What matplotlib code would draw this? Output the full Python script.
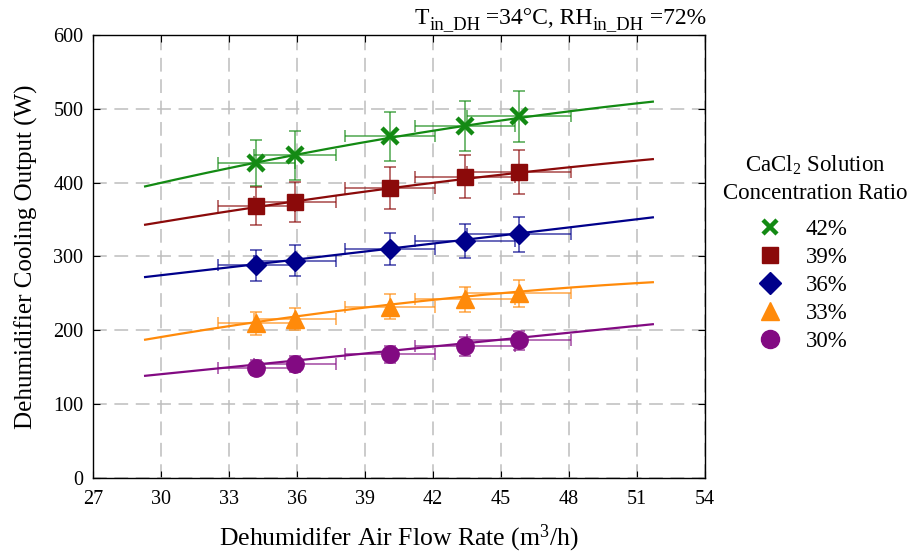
import numpy as np
import matplotlib
matplotlib.use('Agg')
import matplotlib.pyplot as plt
from matplotlib.lines import Line2D

plt.rcParams['font.family'] = ['Liberation Serif', 'DejaVu Serif']
plt.rcParams['mathtext.fontset'] = 'custom'
plt.rcParams['mathtext.rm'] = 'Liberation Serif'
plt.rcParams['mathtext.it'] = 'Liberation Serif:italic'

# ---- data ----
flow = [34.2, 35.9, 40.1, 43.4, 45.8]
flow_err = [1.7, 1.8, 2.0, 2.2, 2.3]
labels = ['42%', '39%', '36%', '33%', '30%']
cool_42 = [427, 437, 463, 477, 490]
err_42 = [31, 33, 33, 34, 35]
cool_39 = [368, 374, 393, 408, 415]
err_39 = [26, 27, 28, 29, 30]
cool_36 = [288, 294, 310, 321, 330]
err_36 = [21, 21, 22, 23, 24]
cool_33 = [209, 215, 232, 242, 250]
err_33 = [15, 15, 17, 17, 18]
cool_30 = [149, 154, 167, 178, 186]
err_30 = [10, 11, 12, 13, 13]

# trend-line values read at three flow rates
fit_x = [29.3, 40.5, 51.7]
fit_42 = [395, 463, 510]
fit_39 = [343, 394, 432]
fit_36 = [272, 312, 353]
fit_33 = [187, 236, 265]
fit_30 = [138, 173, 208]

x_ticks = [27, 30, 33, 36, 39, 42, 45, 48, 51, 54]
y_ticks = [0, 100, 200, 300, 400, 500, 600]

series = [
    (labels[0], cool_42, err_42, fit_42, '#138a13', 'x'),
    (labels[1], cool_39, err_39, fit_39, '#8b0a0a', 's'),
    (labels[2], cool_36, err_36, fit_36, '#00008b', 'D'),
    (labels[3], cool_33, err_33, fit_33, '#ff8a0a', '^'),
    (labels[4], cool_30, err_30, fit_30, '#820a82', 'o'),
]

W, H = 908, 557
fig = plt.figure(figsize=(W / 100, H / 100), dpi=100)
ax = fig.add_axes([0.1024, 0.1427, 0.6740, 0.7939])

handles = []
for lab, y, ye, fy, col, mk in series:
    coef = np.polyfit(fit_x, fy, 2)
    xx = np.linspace(fit_x[0], fit_x[-1], 200)
    ax.plot(xx, np.polyval(coef, xx), color=col, lw=1.6, zorder=3)
    ax.errorbar(flow, y, yerr=ye, xerr=flow_err, fmt='none', ecolor=col,
                elinewidth=1.1, capsize=4, capthick=1.1, alpha=0.75, zorder=4)
    if mk == 'x':
        ax.plot(flow, y, ls='none', marker='x', ms=12, mew=3.2, color=col, zorder=5)
        h = Line2D([], [], ls='none', marker='x', ms=10, mew=3.2, color=col)
    else:
        ms = {'s': 11.5, 'D': 10.5, '^': 12.5, 'o': 12.5}[mk]
        lms = {'s': 11, 'D': 11, '^': 13, 'o': 13}[mk]
        ax.plot(flow, y, ls='none', marker=mk, ms=ms, color=col, mec=col, zorder=5)
        h = Line2D([], [], ls='none', marker=mk, ms=lms, color=col, mec=col)
    handles.append(h)

ax.set_xlim(27, 54)
ax.set_ylim(0, 600)
ax.set_xticks(x_ticks)
ax.set_yticks(y_ticks)
ax.tick_params(direction='in', top=True, right=True, length=5, labelsize=14.5)
ax.tick_params(axis='x', pad=9)
ax.tick_params(axis='y', pad=7)
ax.grid(True, color='#bdbdbd', ls=(0, (9, 5)), lw=1.1)
ax.set_axisbelow(True)
for s in ax.spines.values():
    s.set_linewidth(1.0)

ax.set_xlabel('Dehumidifer Air Flow Rate (m$^3$/h)', fontsize=18.5, labelpad=10)
ax.set_ylabel('Dehumidifier Cooling Output (W)', fontsize=18, labelpad=11)

# condition note at the top right, built from pieces so subscripts are large
renderer = fig.canvas.get_renderer()
pieces = [('T', 17, 0), ('in_DH', 13.5, -5), (' =34°C, RH', 17, 0),
          ('in_DH', 13.5, -5), (' =72%', 17, 0)]
texts = []
widths = []
for s, size, dy in pieces:
    t = fig.text(0, 0, s, fontsize=size, ha='left', va='baseline')
    texts.append((t, dy))
    widths.append(t.get_window_extent(renderer).width)
x = 706 - sum(widths)
base = H - 24
for (t, dy), w in zip(texts, widths):
    t.set_position((x / W, (base + dy) / H))
    x += w

# legend title and entries
fig.text(815 / W, 1 - 179 / H, 'CaCl$_2$ Solution\nConcentration Ratio',
         ha='center', va='center', fontsize=16.5, linespacing=1.4,
         multialignment='center')
leg = fig.legend(handles=handles, labels=labels, loc='upper left',
                 bbox_to_anchor=(758.5 / W, 1 - 219 / H), frameon=False,
                 fontsize=16.5, handletextpad=1.05, labelspacing=0.30,
                 handlelength=1.0, borderaxespad=0, borderpad=0)

fig.savefig('out.png', dpi=100)
